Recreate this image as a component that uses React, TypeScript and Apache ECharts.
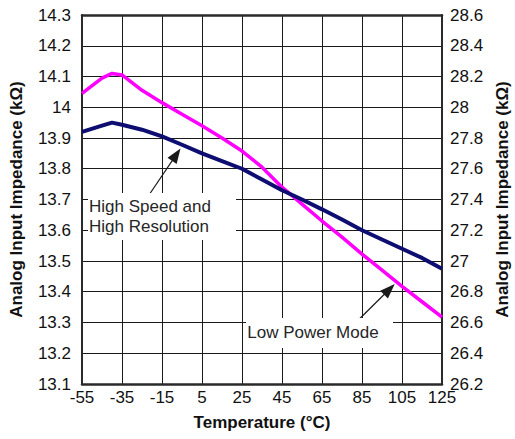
import React, { useEffect, useRef } from "react";
import * as echarts from "echarts";

const temperatures = [-55, -45, -40, -35, -30, -25, -15, -5, 5, 15, 25, 35, 45, 55, 65, 75, 85, 95, 105, 115, 125];
const highSpeedValues = [13.92, 13.94, 13.95, 13.943, 13.935, 13.927, 13.905, 13.878, 13.85, 13.825, 13.8, 13.765, 13.73, 13.7, 13.668, 13.635, 13.6, 13.57, 13.54, 13.51, 13.475];
const lowPowerValues = [28.09, 28.19, 28.22, 28.21, 28.16, 28.11, 28.03, 27.955, 27.88, 27.8, 27.715, 27.61, 27.48, 27.37, 27.26, 27.155, 27.045, 26.94, 26.835, 26.735, 26.635];

const xAxisTitle = "Temperature (°C)";
const yAxisTitle = "Analog Input Impedance (kΩ)";
const highSpeedLabel = "High Speed and\nHigh Resolution";
const lowPowerLabel = "Low Power Mode";

// arrow annotations in data coordinates [temperature, value]
const highSpeedArrow = [[-22.1, 13.709], [-7.85, 13.846]];
const lowPowerArrow = [[82.3, 26.605], [98.7, 26.816]];

const FONT = "'Liberation Sans', Arial, Helvetica, sans-serif";

export default function App() {
  const ref = useRef<HTMLDivElement>(null);
  useEffect(() => {
    document.body.style.margin = "0";
    const chart = echarts.init(ref.current!, null, { renderer: "svg" });
    const axisLabelStyle = { fontSize: 17, color: "#111", fontFamily: FONT };
    const nameStyle = { fontSize: 17, fontWeight: "bold" as const, color: "#111", fontFamily: FONT };
    const frameLine = (w: number) => ({ show: true, onZero: false, lineStyle: { color: "#2a2a2a", width: w } });
    const gridLine = { show: true, lineStyle: { color: "#1a1a1a", width: 1 } };
    chart.setOption({
      animation: false,
      grid: {
        left: 81,
        right: 66,
        top: 15,
        bottom: 55,
        outerBounds: { left: 0, right: -4, top: 0, bottom: 0 },
      },
      xAxis: [
        {
          type: "value",
          position: "bottom",
          min: -55,
          max: 125,
          interval: 20,
          axisLine: frameLine(2.5),
          axisTick: { show: false },
          axisLabel: { ...axisLabelStyle, margin: 5 },
          splitLine: gridLine,
          name: xAxisTitle,
          nameLocation: "middle",
          nameGap: 30,
          nameTextStyle: nameStyle,
        },
        {
          type: "value",
          position: "top",
          min: -55,
          max: 125,
          interval: 20,
          axisLine: frameLine(2.5),
          axisTick: { show: false },
          axisLabel: { show: false },
          splitLine: { show: false },
        },
      ],
      yAxis: [
        {
          type: "value",
          min: 13.1,
          max: 14.3,
          interval: 0.1,
          position: "left",
          axisLine: frameLine(2),
          axisTick: { show: false },
          axisLabel: { ...axisLabelStyle, margin: 11 },
          splitLine: gridLine,
          name: yAxisTitle,
          nameLocation: "middle",
          nameRotate: 90,
          nameGap: 57,
          nameTextStyle: nameStyle,
        },
        {
          type: "value",
          min: 26.2,
          max: 28.6,
          interval: 0.2,
          position: "right",
          axisLine: frameLine(2),
          axisTick: { show: false },
          axisLabel: { ...axisLabelStyle, margin: 8 },
          splitLine: { show: false },
          name: yAxisTitle,
          nameLocation: "middle",
          nameRotate: 90,
          nameGap: 43,
          nameTextStyle: nameStyle,
        },
      ],
      series: [
        {
          name: "High Speed and High Resolution",
          type: "line",
          xAxisIndex: 0,
          yAxisIndex: 0,
          showSymbol: false,
          data: temperatures.map((t, i) => [t, highSpeedValues[i]]),
          lineStyle: { color: "#0e0e72", width: 4 },
          itemStyle: { color: "#0e0e72" },
          z: 3,
          markLine: {
            silent: true,
            animation: false,
            symbol: ["none", "triangle"],
            symbolSize: [11, 15],
            label: { show: false },
            lineStyle: { color: "#1a1a1a", width: 1.2, type: "solid" },
            data: [[{ coord: highSpeedArrow[0] }, { coord: highSpeedArrow[1] }]],
          },
        },
        {
          name: "Low Power Mode",
          type: "line",
          xAxisIndex: 0,
          yAxisIndex: 1,
          showSymbol: false,
          data: temperatures.map((t, i) => [t, lowPowerValues[i]]),
          lineStyle: { color: "#ff00ff", width: 3.5 },
          itemStyle: { color: "#ff00ff" },
          z: 2,
          markLine: {
            silent: true,
            animation: false,
            symbol: ["none", "triangle"],
            symbolSize: [11, 15],
            label: { show: false },
            lineStyle: { color: "#1a1a1a", width: 1.2, type: "solid" },
            data: [[{ coord: lowPowerArrow[0] }, { coord: lowPowerArrow[1] }]],
          },
        },
      ],
      graphic: [
        {
          type: "rect",
          shape: { x: 88, y: 193, width: 148, height: 47 },
          style: { fill: "#fff" },
          z: 10,
        },
        {
          type: "text",
          x: 89,
          y: 196.7,
          style: {
            text: highSpeedLabel,
            fontSize: 17,
            lineHeight: 20,
            fontFamily: FONT,
            fill: "#262626",
            verticalAlign: "top",
            align: "left",
          },
          z: 11,
        },
        {
          type: "rect",
          shape: { x: 246, y: 318, width: 147, height: 30 },
          style: { fill: "#fff" },
          z: 10,
        },
        {
          type: "text",
          x: 247.3,
          y: 322.7,
          style: {
            text: lowPowerLabel,
            fontSize: 17,
            lineHeight: 20,
            fontFamily: FONT,
            fill: "#262626",
            verticalAlign: "top",
            align: "left",
          },
          z: 11,
        },
      ],
    });
    return () => chart.dispose();
  }, []);
  return <div ref={ref} style={{ width: 515, height: 439 }} />;
}
